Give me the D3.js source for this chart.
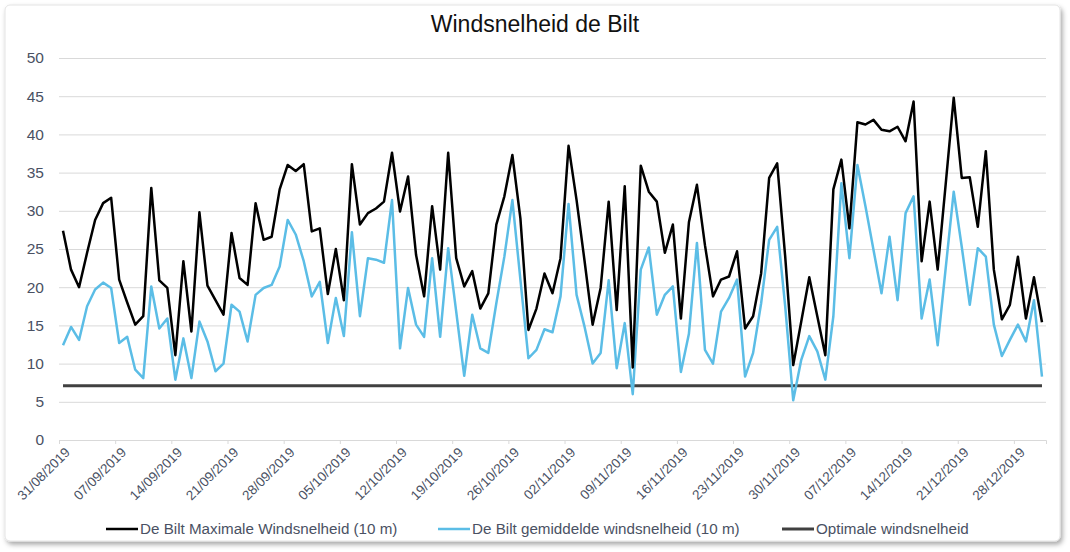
<!DOCTYPE html>
<html>
<head>
<meta charset="utf-8">
<script src="https://cdn.jsdelivr.net/npm/d3@7"></script>
<style>
  body { margin: 0; background: #fff; }
  svg { display: block; font-family: 'Liberation Sans', Arial, sans-serif; }
</style>
</head>
<body>
<svg id="chart" width="1070" height="552"></svg>
<script>
// first day of the series, one value per day after that
const startDate = '2019-08-31'

// De Bilt Maximale Windsnelheid (10 m)
const maxWind = [
  27.4, 22.3, 20.0, 24.5, 28.8, 31.0, 31.7, 21.0, 18.0, 15.1,
  16.2, 33.0, 20.9, 19.9, 11.1, 23.4, 14.2, 29.8, 20.2, 18.3,
  16.4, 27.1, 21.2, 20.3, 31.0, 26.2, 26.6, 32.8, 36.0, 35.2,
  36.1, 27.3, 27.7, 19.1, 25.0, 18.3, 36.1, 28.2, 29.7, 30.3,
  31.2, 37.6, 29.9, 34.5, 24.2, 18.8, 30.6, 22.3, 37.6, 23.8,
  20.1, 22.1, 17.2, 19.2, 28.2, 31.9, 37.3, 29.0, 14.4, 17.2,
  21.8, 19.2, 23.8, 38.5, 31.4, 23.4, 15.1, 19.9, 31.2, 17.0,
  33.2, 9.5, 35.9, 32.5, 31.2, 24.5, 28.2, 15.9, 28.5, 33.4,
  25.5, 18.8, 21.0, 21.4, 24.7, 14.6, 16.2, 21.8, 34.3, 36.2,
  24.0, 9.8, 15.5, 21.3, 16.2, 11.1, 32.8, 36.7, 27.7, 41.6,
  41.3, 41.9, 40.6, 40.4, 41.0, 39.1, 44.3, 23.4, 31.2, 22.3,
  33.5, 44.8, 34.3, 34.4, 27.9, 37.8, 22.3, 15.8, 17.7, 24.0,
  15.9, 21.3, 15.4
]

// De Bilt gemiddelde windsnelheid (10 m)
const meanWind = [
  12.4, 14.8, 13.1, 17.5, 19.7, 20.6, 19.9, 12.7, 13.5, 9.2,
  8.1, 20.1, 14.6, 15.9, 7.9, 13.3, 8.1, 15.5, 12.9, 9.0,
  10.0, 17.7, 16.8, 12.9, 19.0, 19.9, 20.3, 22.7, 28.8, 26.9,
  23.4, 18.8, 20.7, 12.7, 18.6, 13.6, 27.2, 16.2, 23.8, 23.6,
  23.2, 31.4, 12.0, 19.9, 15.1, 13.5, 23.8, 13.5, 25.1, 16.8,
  8.4, 16.4, 12.0, 11.4, 17.9, 24.0, 31.4, 21.0, 10.7, 11.8,
  14.5, 14.1, 18.8, 30.9, 19.0, 14.8, 10.0, 11.4, 20.9, 9.4,
  15.3, 6.0, 22.3, 25.2, 16.4, 19.0, 20.1, 8.9, 13.9, 25.8,
  11.8, 10.0, 16.8, 18.6, 21.0, 8.3, 11.4, 17.9, 26.2, 27.9,
  17.5, 5.2, 10.5, 13.6, 11.6, 7.9, 16.2, 33.6, 23.8, 36.0,
  30.6, 24.9, 19.2, 26.6, 18.3, 29.7, 31.9, 15.9, 21.0, 12.4,
  22.5, 32.5, 25.3, 17.7, 25.1, 24.0, 15.1, 11.0, 13.1, 15.1,
  12.9, 18.3, 8.3
]

// Optimale windsnelheid (constant)
const optimal = 7.1

const yTicks = [0, 5, 10, 15, 20, 25, 30, 35, 40, 45, 50]
const xTickLabels = [
  '31/08/2019', '07/09/2019', '14/09/2019', '21/09/2019', '28/09/2019',
  '05/10/2019', '12/10/2019', '19/10/2019', '26/10/2019', '02/11/2019',
  '09/11/2019', '16/11/2019', '23/11/2019', '30/11/2019', '07/12/2019',
  '14/12/2019', '21/12/2019', '28/12/2019'
]

const seriesNames = [
  'De Bilt Maximale Windsnelheid (10 m)',
  'De Bilt gemiddelde windsnelheid (10 m)',
  'Optimale windsnelheid'
]
const seriesColors = ['#000000', '#5bbde6', '#404040']

const parseDate = d3.timeParse('%Y-%m-%d')
const parseTick = d3.timeParse('%d/%m/%Y')
const start = parseDate(startDate)
const days = d3.timeDay.range(start, d3.timeDay.offset(start, maxWind.length))

const svg = d3.select('#chart')

// card with shadow
const defs = svg.append('defs')
defs.append('filter')
    .attr('id', 'shadow')
    .attr('x', '-5%').attr('y', '-5%')
    .attr('width', '110%').attr('height', '110%')
  .append('feDropShadow')
    .attr('dx', 2).attr('dy', 3)
    .attr('stdDeviation', 2.5)
    .attr('flood-color', '#000')
    .attr('flood-opacity', 0.35)

svg.append('rect')
  .attr('x', 5).attr('y', 5)
  .attr('width', 1055).attr('height', 536)
  .attr('rx', 5)
  .attr('fill', '#fff')
  .attr('stroke', '#e4e4e4')
  .attr('filter', 'url(#shadow)')

const margin = {top: 58, left: 59, right: 24, bottom: 112}
const width = 1070 - margin.left - margin.right
const height = 552 - margin.top - margin.bottom

const g = svg.append('g')
  .attr('transform', 'translate(' + margin.left + ',' + margin.top + ')')

// title
svg.append('text')
  .attr('x', 535).attr('y', 32)
  .attr('text-anchor', 'middle')
  .attr('font-size', 23)
  .attr('fill', '#111')
  .text('Windsnelheid de Bilt')

const x = d3.scaleTime()
  .domain([start, d3.timeDay.offset(start, maxWind.length)])
  .range([0, width])

const y = d3.scaleLinear()
  .domain([0, 50])
  .range([height, 0])

// points sit in the middle of their day
const xDay = (d) => x(d3.timeHour.offset(d, 12))

// gridlines + y labels
const yAxis = g.append('g')
  .call(d3.axisLeft(y)
    .tickValues(yTicks)
    .tickSize(-width)
    .tickPadding(15))
yAxis.select('.domain').remove()
yAxis.selectAll('.tick line')
  .attr('stroke', '#d9d9d9')
yAxis.selectAll('.tick text')
  .attr('fill', '#4a5163')
  .attr('font-size', 15.5)
  .attr('font-family', "'Liberation Sans', Arial, sans-serif")

// x axis
const xAxis = g.append('g')
  .attr('transform', 'translate(0,' + height + ')')
  .call(d3.axisBottom(x)
    .tickValues(xTickLabels.map(parseTick))
    .tickSize(4)
    .tickFormat((d, i) => xTickLabels[i]))
xAxis.select('.domain')
  .attr('stroke', '#d9d9d9')
xAxis.selectAll('.tick line')
  .attr('stroke', '#d9d9d9')
xAxis.selectAll('.tick text')
  .attr('fill', '#4a5163')
  .attr('font-size', 13.5)
  .attr('font-family', "'Liberation Sans', Arial, sans-serif")
  .attr('text-anchor', 'end')
  .attr('transform', 'translate(3,5) rotate(-45)')
  .attr('dy', '0.35em')

// lines
const line = d3.line()
  .x((d, i) => xDay(days[i]))
  .y((d) => y(d))

g.append('path')
  .datum([optimal, optimal])
  .attr('fill', 'none')
  .attr('stroke', seriesColors[2])
  .attr('stroke-width', 3)
  .attr('d', d3.line()
    .x((d, i) => xDay(days[i === 0 ? 0 : days.length - 1]))
    .y((d) => y(d)))

g.append('path')
  .datum(meanWind)
  .attr('fill', 'none')
  .attr('stroke', seriesColors[1])
  .attr('stroke-width', 2.5)
  .attr('stroke-linejoin', 'round')
  .attr('d', line)

g.append('path')
  .datum(maxWind)
  .attr('fill', 'none')
  .attr('stroke', seriesColors[0])
  .attr('stroke-width', 2.5)
  .attr('stroke-linejoin', 'round')
  .attr('d', line)

// legend
const legendX = [106, 438, 782]
const legend = svg.append('g')
  .attr('transform', 'translate(0,529)')
  .selectAll('g')
  .data(seriesNames)
  .join('g')
    .attr('transform', (d, i) => 'translate(' + legendX[i] + ',0)')

legend.append('line')
  .attr('x1', 0).attr('x2', 32)
  .attr('stroke', (d, i) => seriesColors[i])
  .attr('stroke-width', (d, i) => i === 2 ? 3 : 2.5)

legend.append('text')
  .attr('x', 34)
  .attr('dy', '0.35em')
  .attr('font-size', 15.2)
  .attr('fill', '#4a5163')
  .text((d) => d)
</script>
</body>
</html>
